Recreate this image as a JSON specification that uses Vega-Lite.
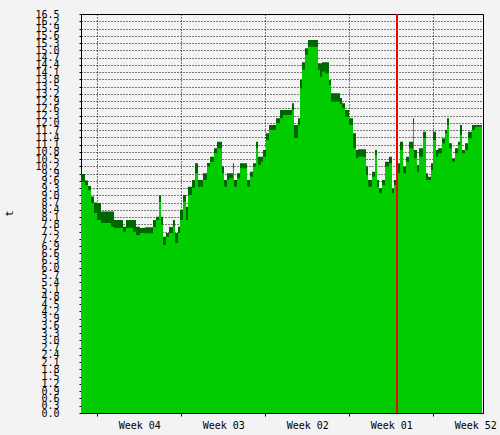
{
  "$schema": "https://vega.github.io/schema/vega-lite/v6.json",
  "width": 402,
  "height": 399,
  "autosize": "none",
  "padding": {"left": 81, "top": 14, "right": 17, "bottom": 22},
  "background": "#F3F3F3",
  "config": {
    "view": {"stroke": "#000000", "strokeWidth": 1, "fill": "#F3F3F3"},
    "axis": {"labelFont": "DejaVu Sans Mono", "labelFontSize": 10, "labelColor": "#000000", "titleFont": "DejaVu Sans Mono", "titleFontSize": 10, "titleFontWeight": "normal", "titleColor": "#000000", "domainColor": "#000000", "tickColor": "#000000", "gridColor": "#000000", "gridDash": [1, 2], "gridOpacity": 1, "zindex": 1}
  },
  "data": {"values": [
    {"h": 0, "max": 9.88, "avg": 9.55},
    {"h": 8, "max": 9.61, "avg": 9.43},
    {"h": 14, "max": 9.39, "avg": 9.22},
    {"h": 20, "max": 8.95, "avg": 8.68},
    {"h": 26, "max": 8.70, "avg": 8.27},
    {"h": 32, "max": 8.68, "avg": 7.98},
    {"h": 40, "max": 8.33, "avg": 7.86},
    {"h": 60, "max": 8.33, "avg": 7.70},
    {"h": 66, "max": 7.98, "avg": 7.65},
    {"h": 84, "max": 7.70, "avg": 7.50},
    {"h": 90, "max": 7.98, "avg": 7.65},
    {"h": 104, "max": 7.98, "avg": 7.50},
    {"h": 110, "max": 7.70, "avg": 7.36},
    {"h": 118, "max": 7.65, "avg": 7.44},
    {"h": 128, "max": 7.68, "avg": 7.43},
    {"h": 144, "max": 7.98, "avg": 7.69},
    {"h": 150, "max": 8.12, "avg": 7.98},
    {"h": 156, "max": 9.02, "avg": 8.74},
    {"h": 160, "max": 8.12, "avg": 7.78},
    {"h": 164, "max": 7.29, "avg": 6.95},
    {"h": 170, "max": 7.44, "avg": 7.29},
    {"h": 176, "max": 7.69, "avg": 7.44},
    {"h": 184, "max": 7.98, "avg": 7.70},
    {"h": 188, "max": 7.44, "avg": 7.03},
    {"h": 194, "max": 7.70, "avg": 7.44},
    {"h": 198, "max": 8.40, "avg": 7.98},
    {"h": 204, "max": 9.02, "avg": 8.74},
    {"h": 210, "max": 8.53, "avg": 7.98},
    {"h": 214, "max": 9.36, "avg": 9.02},
    {"h": 222, "max": 9.64, "avg": 9.31},
    {"h": 228, "max": 10.33, "avg": 9.91},
    {"h": 234, "max": 9.64, "avg": 9.36},
    {"h": 244, "max": 9.91, "avg": 9.64},
    {"h": 252, "max": 10.34, "avg": 10.19},
    {"h": 258, "max": 10.60, "avg": 10.39},
    {"h": 266, "max": 10.95, "avg": 10.74},
    {"h": 272, "max": 11.22, "avg": 10.95},
    {"h": 282, "max": 10.19, "avg": 9.91},
    {"h": 286, "max": 9.64, "avg": 9.36},
    {"h": 292, "max": 9.91, "avg": 9.64},
    {"h": 296, "max": 9.91, "avg": 9.71},
    {"h": 304, "max": 10.33, "avg": 10.12},
    {"h": 306, "max": 9.64, "avg": 9.36},
    {"h": 312, "max": 9.91, "avg": 9.71},
    {"h": 318, "max": 10.33, "avg": 10.12},
    {"h": 332, "max": 9.64, "avg": 9.36},
    {"h": 338, "max": 9.98, "avg": 9.77},
    {"h": 344, "max": 10.33, "avg": 10.19},
    {"h": 350, "max": 11.22, "avg": 10.95},
    {"h": 354, "max": 10.60, "avg": 10.26},
    {"h": 360, "max": 10.60, "avg": 10.39},
    {"h": 364, "max": 10.88, "avg": 10.60},
    {"h": 370, "max": 11.57, "avg": 11.29},
    {"h": 376, "max": 11.91, "avg": 11.70},
    {"h": 390, "max": 12.19, "avg": 11.98},
    {"h": 398, "max": 12.53, "avg": 12.19},
    {"h": 404, "max": 12.53, "avg": 12.32},
    {"h": 422, "max": 12.81, "avg": 12.53},
    {"h": 426, "max": 11.91, "avg": 11.37},
    {"h": 434, "max": 12.19, "avg": 11.91},
    {"h": 438, "max": 13.77, "avg": 13.43},
    {"h": 442, "max": 14.50, "avg": 14.19},
    {"h": 448, "max": 15.08, "avg": 14.81},
    {"h": 454, "max": 15.43, "avg": 15.15},
    {"h": 474, "max": 14.46, "avg": 14.19},
    {"h": 478, "max": 14.46, "avg": 13.91},
    {"h": 482, "max": 14.50, "avg": 14.12},
    {"h": 488, "max": 14.50, "avg": 14.05},
    {"h": 496, "max": 13.77, "avg": 13.56},
    {"h": 500, "max": 13.22, "avg": 12.87},
    {"h": 518, "max": 13.03, "avg": 12.78},
    {"h": 522, "max": 12.81, "avg": 12.60},
    {"h": 528, "max": 12.53, "avg": 12.25},
    {"h": 536, "max": 12.19, "avg": 11.91},
    {"h": 544, "max": 11.57, "avg": 10.95},
    {"h": 550, "max": 10.88, "avg": 10.53},
    {"h": 554, "max": 10.91, "avg": 10.60},
    {"h": 570, "max": 10.19, "avg": 9.84},
    {"h": 574, "max": 9.64, "avg": 9.36},
    {"h": 582, "max": 9.98, "avg": 9.77},
    {"h": 588, "max": 10.88, "avg": 10.67},
    {"h": 592, "max": 9.64, "avg": 9.36},
    {"h": 596, "max": 9.29, "avg": 9.09},
    {"h": 602, "max": 9.64, "avg": 9.43},
    {"h": 608, "max": 10.39, "avg": 10.19},
    {"h": 616, "max": 10.60, "avg": 10.33},
    {"h": 622, "max": 9.29, "avg": 9.09},
    {"h": 626, "max": 9.64, "avg": 9.43},
    {"h": 632, "max": 10.33, "avg": 9.91},
    {"h": 638, "max": 11.22, "avg": 10.88},
    {"h": 644, "max": 10.19, "avg": 9.91},
    {"h": 650, "max": 10.60, "avg": 10.39},
    {"h": 656, "max": 11.22, "avg": 10.95},
    {"h": 664, "max": 12.19, "avg": 11.98},
    {"h": 666, "max": 10.88, "avg": 10.53},
    {"h": 672, "max": 10.26, "avg": 9.98},
    {"h": 676, "max": 10.95, "avg": 10.60},
    {"h": 684, "max": 11.63, "avg": 11.36},
    {"h": 690, "max": 9.91, "avg": 9.64},
    {"h": 694, "max": 9.77, "avg": 9.64},
    {"h": 700, "max": 10.33, "avg": 10.05},
    {"h": 704, "max": 11.63, "avg": 11.29},
    {"h": 710, "max": 10.88, "avg": 10.60},
    {"h": 714, "max": 10.95, "avg": 10.74},
    {"h": 722, "max": 11.36, "avg": 11.15},
    {"h": 728, "max": 11.70, "avg": 11.57},
    {"h": 732, "max": 12.19, "avg": 11.91},
    {"h": 736, "max": 11.15, "avg": 10.95},
    {"h": 742, "max": 10.53, "avg": 10.39},
    {"h": 748, "max": 10.95, "avg": 10.74},
    {"h": 754, "max": 11.22, "avg": 11.08},
    {"h": 758, "max": 11.91, "avg": 11.50},
    {"h": 762, "max": 10.88, "avg": 10.74},
    {"h": 768, "max": 11.15, "avg": 10.88},
    {"h": 774, "max": 11.63, "avg": 11.36},
    {"h": 782, "max": 11.91, "avg": 11.70},
    {"h": 788, "max": 11.91, "avg": 11.84},
    {"h": 802, "max": 11.91, "avg": 11.84}
  ]},
  "layer": [
    {
      "mark": {"type": "area", "interpolate": "step-after", "color": "#006600"},
      "encoding": {
        "x": {"field": "h", "type": "quantitative", "scale": {"domain": [0, 804], "nice": false, "zero": false},
          "axis": {"title": null, "values": [32.6, 200.6, 368.6, 536.6, 704.6], "tickCount": 10,
            "labelExpr": "datum.value < 100 ? 'Week 04' : datum.value < 300 ? 'Week 03' : datum.value < 450 ? 'Week 02' : datum.value < 600 ? 'Week 01' : 'Week 52'",
            "labelOffset": 42, "labelOverlap": false, "labelBound": false, "labelFlush": false, "labelPadding": 4,
            "tickSize": 3, "grid": true}},
        "y": {"field": "max", "type": "quantitative", "scale": {"domain": [0, 16.5], "nice": false},
          "axis": {"title": "t", "titleX": -67, "titleY": 199, "titleAngle": -90, "tickCount": 100,
            "values": [0, 0.3, 0.6, 0.9, 1.2, 1.5, 1.8, 2.1, 2.4, 2.7, 3.0, 3.3, 3.6, 3.9, 4.2, 4.5, 4.8, 5.1, 5.4, 5.7, 6.0, 6.3, 6.6, 6.9, 7.2, 7.5, 7.8, 8.1, 8.4, 8.7, 9.0, 9.3, 9.6, 9.9, 10.2, 10.5, 10.8, 11.1, 11.4, 11.7, 12.0, 12.3, 12.6, 12.9, 13.2, 13.5, 13.8, 14.1, 14.4, 14.7, 15.0, 15.3, 15.6, 15.9, 16.2, 16.5],
            "format": ".1f", "labelOverlap": false, "labelBound": false, "labelFlush": false, "labelPadding": 20, "tickSize": 2, "grid": true}}
      }
    },
    {
      "mark": {"type": "area", "interpolate": "step-after", "color": "#00CC00"},
      "encoding": {
        "x": {"field": "h", "type": "quantitative"},
        "y": {"field": "avg", "type": "quantitative"}
      }
    },
    {
      "mark": {"type": "rule", "color": "#FF0000", "strokeWidth": 1},
      "encoding": {
        "x": {"datum": 632.6, "type": "quantitative"}
      }
    }
  ]
}
